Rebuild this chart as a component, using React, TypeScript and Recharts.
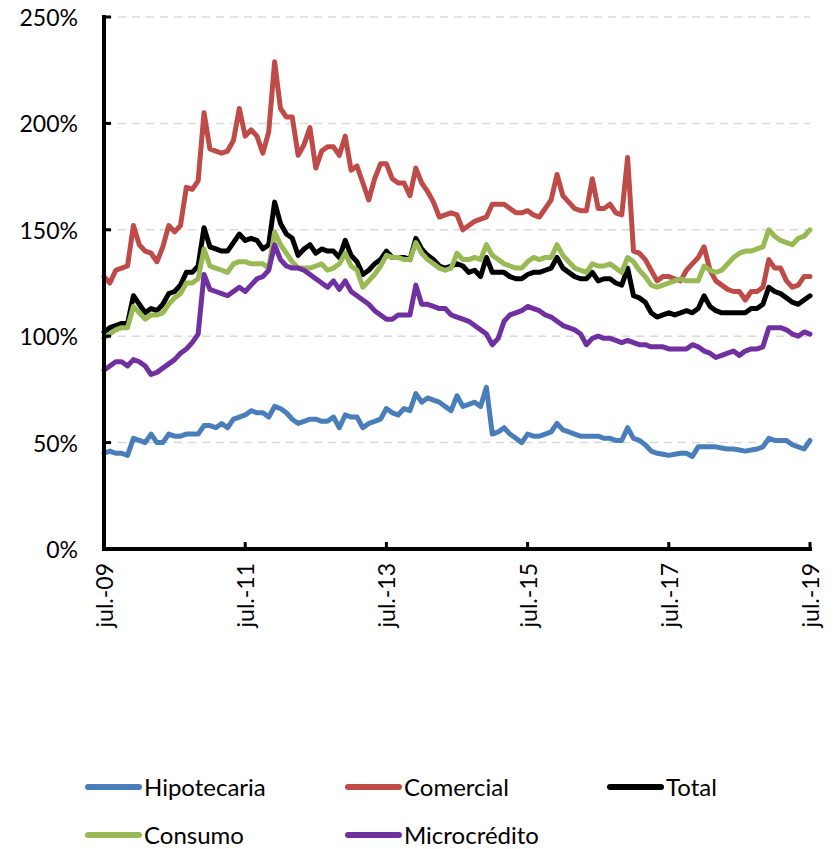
import React from 'react';
import { LineChart, Line, XAxis, YAxis, CartesianGrid, Legend } from 'recharts';

const MONTH_NAMES = ['ene.', 'feb.', 'mar.', 'abr.', 'may.', 'jun.', 'jul.', 'ago.', 'sep.', 'oct.', 'nov.', 'dic.'];
const categories: string[] = [];
for (let k = 0; k <= 120; k++) {
  const m = (6 + k) % 12;
  const y = 9 + Math.floor((6 + k) / 12);
  categories.push(`${MONTH_NAMES[m]}-${String(y).padStart(2, '0')}`);
}

const yTicks = [0, 50, 100, 150, 200, 250];

const hipotecaria = [
  45, 46, 45, 45, 44, 52, 51, 50, 54, 50,
  50, 54, 53, 53, 54, 54, 54, 58, 58, 57,
  59, 57, 61, 62, 63, 65, 64, 64, 62, 67,
  66, 64, 61, 59, 60, 61, 61, 60, 60, 62,
  57, 63, 62, 62, 57, 59, 60, 61, 66, 64,
  63, 66, 65, 73, 69, 71, 70, 69, 67, 65,
  72, 67, 68, 69, 67, 76, 54, 55, 57, 54,
  52, 50, 54, 53, 53, 54, 55, 59, 56, 55,
  54, 53, 53, 53, 53, 52, 52, 51, 51, 57,
  52, 51, 49, 46, 45, 44.5, 44, 44.5, 45, 45,
  43.5, 48, 48, 48, 48, 47.5, 47, 47, 46.5, 46,
  46.5, 47, 48, 52, 51, 51, 51, 49, 48, 47,
  51,
];

const comercial = [
  128, 125, 131, 132, 133, 152, 143, 140, 139, 135,
  142, 152, 149, 152, 170, 169, 173, 205, 188, 187,
  186, 187, 192, 207, 194, 197, 194, 186, 196, 229,
  207, 203, 203, 185, 190, 198, 179, 187, 189, 189,
  185, 194, 178, 180, 172, 164, 174, 181, 181, 174,
  172, 172, 166, 179, 172, 168, 163, 156, 157, 158,
  157, 150, 152, 154, 155, 156, 162, 162, 162, 160,
  158, 158, 159, 157, 156, 160, 164, 176, 166, 163,
  160, 159, 159, 174, 160, 160, 162, 158, 157, 184,
  140, 139, 136, 131, 126, 128, 128, 127, 126, 131,
  134, 137, 142, 131, 126, 124, 122, 121, 121, 117,
  121, 121, 123, 136, 132, 132, 126, 123, 124, 128,
  128,
];

const total = [
  102, 104, 105, 106, 106, 119, 115, 111, 113, 112,
  115, 120, 121, 124, 130, 130, 133, 151, 142, 141,
  140, 140, 144, 148, 145, 146, 145, 141, 143, 163,
  153, 148, 146, 138, 141, 143, 139, 141, 140, 140,
  137, 145, 138, 135, 129, 131, 134, 136, 140, 137,
  137, 137, 136, 146, 141, 138, 136, 133, 132, 133,
  134, 133, 130, 131, 128, 137, 130, 130, 130, 128,
  127, 127, 129, 130, 130, 131, 132, 137, 132, 130,
  128, 127, 127, 130, 126, 127, 127, 125, 124, 132,
  119, 118, 116, 111, 109, 110, 111, 110, 111, 112,
  111, 113, 119, 114, 112, 111, 111, 111, 111, 111,
  113, 113, 115, 123, 121, 120, 118, 116, 115, 117,
  119,
];

const consumo = [
  99, 101, 103, 104, 104, 114, 111, 108, 110, 110,
  111, 115, 118, 120, 125, 125, 127, 141, 133, 132,
  131, 130, 134, 135, 135, 134, 134, 134, 132, 149,
  143, 139, 135, 132, 132, 132, 133, 134, 131, 132,
  134, 139, 133, 131, 123, 126, 129, 133, 138, 137,
  137, 136, 136, 144, 139, 136, 134, 132, 131, 132,
  139, 136, 136, 137, 136, 143, 138, 136, 134, 133,
  132, 132, 135, 137, 136, 137, 137, 143, 138, 135,
  132, 131, 130, 134, 133, 133, 134, 132, 130, 137,
  135, 131, 128, 124, 123, 124, 125, 126, 127, 126,
  126, 126, 133, 131, 130, 131, 134, 137, 139, 140,
  140, 141, 142, 150, 147, 145, 144, 143, 146, 147,
  150,
];

const microcredito = [
  84, 86, 88, 88, 86, 89, 88, 86, 82, 83,
  85, 87, 89, 92, 94, 97, 101, 129, 122, 121,
  120, 119, 121, 123, 121, 124, 127, 128, 131, 143,
  136, 133, 132, 132, 131, 129, 127, 125, 123, 126,
  122, 126, 121, 119, 117, 115, 112, 110, 108, 108,
  110, 110, 110, 124, 115, 115, 114, 113, 113, 110,
  109, 108, 107, 105, 103, 101, 96, 99, 107, 110,
  111, 112, 114, 113, 112, 110, 109, 107, 105, 104,
  103, 101, 96, 99, 100, 99, 99, 98, 97, 98,
  97, 96, 96, 95, 95, 95, 94, 94, 94, 94,
  96, 95, 93, 92, 90, 91, 92, 93, 91, 93,
  94, 94, 95, 104, 104, 104, 103, 101, 100, 102,
  101,
];

const SERIES = [
  { key: 'Hipotecaria', values: hipotecaria, color: '#4A7EBB' },
  { key: 'Comercial', values: comercial, color: '#BE4B48' },
  { key: 'Total', values: total, color: '#000000' },
  { key: 'Consumo', values: consumo, color: '#98B954' },
  { key: 'Microcrédito', values: microcredito, color: '#7030A0' },
];

const data = categories.map((c, i) => {
  const row: Record<string, string | number> = { month: c };
  SERIES.forEach((s) => {
    row[s.key] = s.values[i];
  });
  return row;
});

const FONT = 'Lato, "Open Sans", sans-serif';

const YTick = (props: any) => {
  const { x, y, payload } = props;
  return (
    <g>
      <line x1={x} x2={x + 7} y1={y} y2={y} stroke="#000" strokeWidth={3} />
      <text x={x - 26} y={y} textAnchor="end" dominantBaseline="central" fontFamily={FONT} fontSize={23} fill="#000">
        {`${payload.value}%`}
      </text>
    </g>
  );
};

const XTick = (props: any) => {
  const { x, y, payload } = props;
  const ty = y + 14;
  return (
    <g>
      <line x1={x} x2={x} y1={y} y2={y - 7} stroke="#000" strokeWidth={3} />
      <text
        x={x}
        y={ty}
        transform={`rotate(-90, ${x}, ${ty})`}
        textAnchor="end"
        dominantBaseline="central"
        fontFamily={FONT}
        fontSize={23}
        fill="#000"
      >
        {payload.value}
      </text>
    </g>
  );
};

const LEGEND_X = [85, 345, 607];

const renderLegend = () => (
  <div style={{ position: 'relative', width: 839, height: 90 }}>
    {SERIES.map((s, idx) => {
      const col = idx % 3;
      const row = Math.floor(idx / 3);
      return (
        <div
          key={s.key}
          style={{
            position: 'absolute',
            left: LEGEND_X[col],
            top: 10 + row * 48,
            height: 36,
            display: 'flex',
            alignItems: 'center',
            whiteSpace: 'nowrap',
          }}
        >
          <span
            style={{
              display: 'inline-block',
              width: 57,
              height: 6,
              borderRadius: 3,
              background: s.color,
            }}
          />
          <span style={{ fontFamily: FONT, fontSize: 24, color: '#000', marginLeft: 2, lineHeight: '36px' }}>
            {s.key}
          </span>
        </div>
      );
    })}
  </div>
);

export default function App() {
  return (
    <div style={{ position: 'absolute', left: 0, top: 0, width: 839, height: 849, background: '#fff' }}>
      <LineChart width={839} height={849} data={data} margin={{ top: 17, right: 29, left: 0, bottom: 0 }}>
        <CartesianGrid vertical={false} stroke="#D9D9D9" strokeWidth={1.5} strokeDasharray="8 6" />
        <XAxis
          dataKey="month"
          interval={23}
          height={210}
          tickSize={0}
          tickMargin={0}
          tickLine={false}
          axisLine={{ stroke: '#000', strokeWidth: 4, strokeLinecap: 'square' }}
          tick={<XTick />}
        />
        <YAxis
          width={104}
          domain={[0, 250]}
          ticks={yTicks}
          interval={0}
          tickSize={0}
          tickMargin={0}
          tickLine={false}
          axisLine={{ stroke: '#000', strokeWidth: 4, strokeLinecap: 'square' }}
          tick={<YTick />}
        />
        <Legend
          verticalAlign="bottom"
          content={renderLegend}
          wrapperStyle={{ left: 0, bottom: 0, width: 839, height: 90 }}
        />
        {SERIES.map((s) => (
          <Line
            key={s.key}
            type="linear"
            dataKey={s.key}
            stroke={s.color}
            strokeWidth={5}
            strokeLinejoin="round"
            strokeLinecap="round"
            dot={false}
            activeDot={false}
            isAnimationActive={false}
          />
        ))}
      </LineChart>
    </div>
  );
}
